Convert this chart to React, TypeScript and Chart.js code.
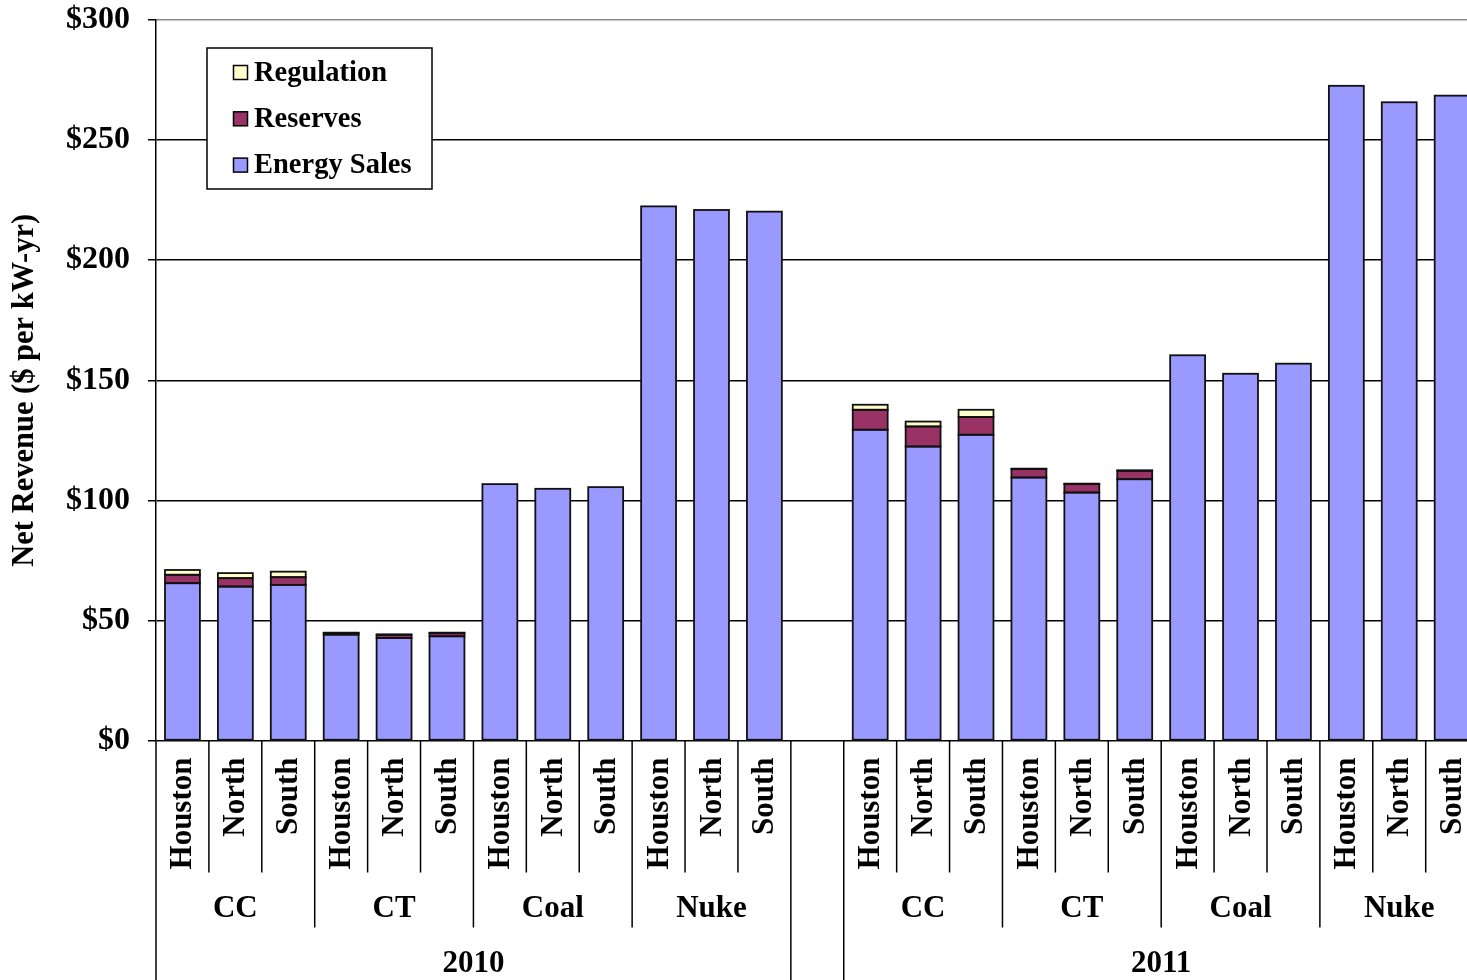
import React, { useEffect, useRef } from "react";
import { Chart, registerables } from "chart.js";

Chart.register(...registerables);

const regions = ["Houston", "North", "South"];
const techGroups = ["CC", "CT", "Coal", "Nuke"];
const years = ["2010", "2011"];
const categories = [
  "Houston", "North", "South", "Houston", "North", "South",
  "Houston", "North", "South", "Houston", "North", "South",
  "",
  "Houston", "North", "South", "Houston", "North", "South",
  "Houston", "North", "South", "Houston", "North", "South",
];
const energySales = [
  65.5, 64.1, 64.8, 44.1, 42.7, 43.4, 106.75, 104.8, 105.5, 222.4, 220.9, 220.2,
  null,
  129.4, 122.4, 127.3, 109.5, 103.25, 108.8, 160.4, 152.7, 156.9, 272.6, 265.75, 268.5,
];
const reserves = [
  3.5, 3.5, 3.2, 0.6, 1.3, 1.3, null, null, null, null, null, null,
  null,
  8.3, 8.35, 7.4, 3.5, 3.5, 3.5, null, null, null, null, null, null,
];
const regulation = [
  2.0, 2.1, 2.3, 0.2, 0.2, 0.2, null, null, null, null, null, null,
  null,
  2.1, 2.05, 3.0, 0.2, 0.2, 0.2, null, null, null, null, null, null,
];
const yTicks = [0, 50, 100, 150, 200, 250, 300];
const seriesNames = ["Energy Sales", "Reserves", "Regulation"];
const seriesColors = ["#9999FF", "#993366", "#FFFFCC"];

const FONT = "'Liberation Serif', 'Times New Roman', serif";

const outlinePlugin = {
  id: "outline",
  afterDatasetsDraw(chart: any) {
    const ctx = chart.ctx as CanvasRenderingContext2D;
    ctx.save();
    ctx.strokeStyle = "#111";
    ctx.lineWidth = 1.8;
    chart.data.datasets.forEach((_: any, di: number) => {
      const meta = chart.getDatasetMeta(di);
      meta.data.forEach((el: any, i: number) => {
        const v = chart.data.datasets[di].data[i];
        if (v === null || v === undefined) return;
        const p = el.getProps(["x", "y", "base", "width"], true);
        const top = Math.min(p.y, p.base);
        const h = Math.abs(p.base - p.y);
        ctx.strokeRect(p.x - p.width / 2, top, p.width, h);
      });
    });
    ctx.restore();
  },
};

const decorPlugin = {
  id: "decor",
  afterDraw(chart: any) {
    const ctx = chart.ctx as CanvasRenderingContext2D;
    const xs = chart.scales.x;
    const area = chart.chartArea;
    const n = categories.length;
    const step = xs.getPixelForValue(1) - xs.getPixelForValue(0);
    const left = xs.getPixelForValue(0) - step / 2;
    const base = area.bottom;
    const H = chart.height;
    ctx.save();
    ctx.strokeStyle = "#000";
    ctx.lineWidth = 1.5;
    for (let k = 0; k <= n; k++) {
      const x = left + k * step;
      let end = base + 132;
      if (k === 0 || k === 12 || k === 13 || k === n) end = H;
      else {
        const idx = k < 12 ? k : k - 13;
        if (idx % 3 === 0) end = base + 187;
      }
      ctx.beginPath();
      ctx.moveTo(x, base);
      ctx.lineTo(x, end);
      ctx.stroke();
    }
    ctx.fillStyle = "#000";
    ctx.font = `bold 31px ${FONT}`;
    for (let i = 0; i < n; i++) {
      if (!categories[i]) continue;
      const x = xs.getPixelForValue(i);
      ctx.save();
      ctx.translate(x + 1, base + 17);
      ctx.rotate(-Math.PI / 2);
      ctx.textAlign = "right";
      ctx.textBaseline = "middle";
      ctx.fillText(categories[i], 0, 0);
      ctx.restore();
    }
    ctx.textAlign = "center";
    ctx.textBaseline = "middle";
    for (let y = 0; y < years.length; y++) {
      const off = y * 13;
      for (let g = 0; g < techGroups.length; g++) {
        const cx = xs.getPixelForValue(off + g * 3 + 1);
        ctx.fillText(techGroups[g], cx, base + 168);
      }
      const yc = (xs.getPixelForValue(off) + xs.getPixelForValue(off + 11)) / 2;
      ctx.fillText(years[y], yc, base + 223);
    }
    ctx.save();
    ctx.translate(25, (area.top + area.bottom) / 2 + 10);
    ctx.rotate(-Math.PI / 2);
    ctx.font = `bold 30.5px ${FONT}`;
    ctx.textAlign = "center";
    ctx.textBaseline = "middle";
    ctx.fillText("Net Revenue ($ per kW-yr)", 0, 0);
    ctx.restore();
    const lx = 207, ly = 48, lw = 225, lh = 141;
    ctx.fillStyle = "#fff";
    ctx.fillRect(lx, ly, lw, lh);
    ctx.strokeStyle = "#000";
    ctx.lineWidth = 1.5;
    ctx.strokeRect(lx, ly, lw, lh);
    const order = [2, 1, 0];
    ctx.font = `bold 28.5px ${FONT}`;
    ctx.textAlign = "left";
    ctx.textBaseline = "middle";
    order.forEach((si, r) => {
      const cy = 72.5 + r * 46.3;
      ctx.fillStyle = seriesColors[si];
      ctx.fillRect(233.5, cy - 7, 14, 14);
      ctx.strokeStyle = "#000";
      ctx.lineWidth = 1.5;
      ctx.strokeRect(233.5, cy - 7, 14, 14);
      ctx.fillStyle = "#000";
      ctx.fillText(seriesNames[si], 254, cy + 1);
    });
    ctx.restore();
  },
};

export default function App() {
  const ref = useRef<HTMLCanvasElement | null>(null);
  useEffect(() => {
    if (!ref.current) return;
    const data = [energySales, reserves, regulation];
    const chart = new Chart(ref.current, {
      type: "bar",
      data: {
        labels: categories,
        datasets: data.map((d, i) => ({
          label: seriesNames[i],
          data: d as any,
          backgroundColor: seriesColors[i],
          borderWidth: 0,
          barPercentage: 0.66,
          categoryPercentage: 1,
        })),
      },
      options: {
        responsive: false,
        animation: false,
        devicePixelRatio: 1,
        layout: { padding: { left: 0, right: 1.4, top: 20, bottom: 239.5 } },
        plugins: { legend: { display: false }, tooltip: { enabled: false } },
        scales: {
          x: { stacked: true, display: false },
          y: {
            stacked: true,
            min: 0,
            max: 300,
            afterBuildTicks: (s: any) => {
              s.ticks = yTicks.map((v) => ({ value: v }));
            },
            afterFit: (s: any) => {
              s.width = 156;
              s.paddingTop = 0;
              s.paddingBottom = 0;
            },
            ticks: {
              callback: (v: any) => "$" + v,
              color: "#000",
              padding: 18,
              font: { family: FONT, size: 32, weight: "bold" },
            },
            grid: {
              color: (c: any) => (c.tick && c.tick.value === 300 ? "#8a8a8a" : "#000"),
              tickColor: "#000",
              lineWidth: 1.5,
              tickLength: 8,
            },
            border: { display: true, color: "#000", width: 1.5 },
          },
        },
      },
      plugins: [outlinePlugin, decorPlugin],
    } as any);
    return () => chart.destroy();
  }, []);
  return (
    <div
      style={{
        position: "fixed",
        left: 0,
        top: 0,
        width: 1467,
        height: 980,
        overflow: "hidden",
        background: "#fff",
      }}
    >
      <canvas ref={ref} width={1480} height={980} style={{ display: "block" }} />
    </div>
  );
}
